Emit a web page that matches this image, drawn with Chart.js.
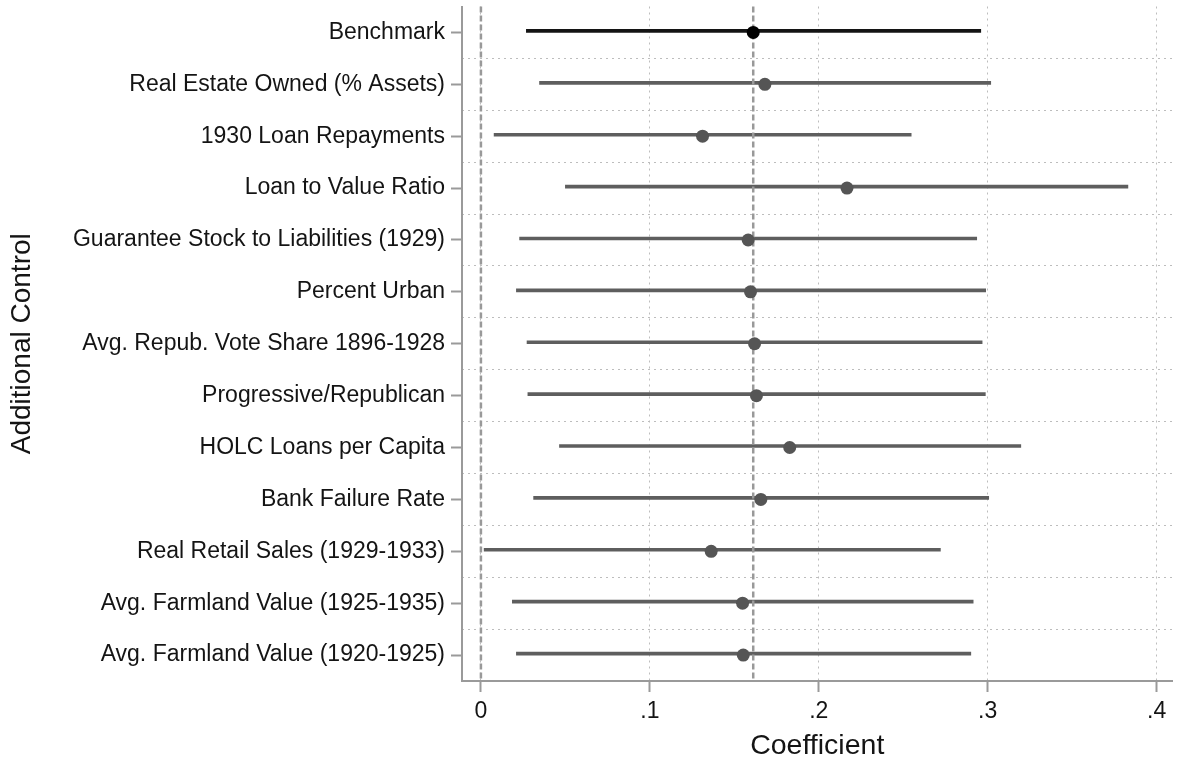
<!DOCTYPE html>
<html>
<head>
<meta charset="utf-8">
<title>Coefficient plot: additional controls</title>
<script src="https://cdn.jsdelivr.net/npm/chart.js@4/dist/chart.umd.min.js"></script>
<style>
  html, body { margin: 0; padding: 0; background: #ffffff; }
  canvas { display: block; }
</style>
</head>
<body>
<canvas id="coefplot" width="1179" height="766"></canvas>
<script>
// Specifications, top to bottom
const categories = [
  'Benchmark',
  'Real Estate Owned (% Assets)',
  '1930 Loan Repayments',
  'Loan to Value Ratio',
  'Guarantee Stock to Liabilities (1929)',
  'Percent Urban',
  'Avg. Repub. Vote Share 1896-1928',
  'Progressive/Republican',
  'HOLC Loans per Capita',
  'Bank Failure Rate',
  'Real Retail Sales (1929-1933)',
  'Avg. Farmland Value (1925-1935)',
  'Avg. Farmland Value (1920-1925)'
];

// Point estimates
const coefficients = [0.1612, 0.1681, 0.1312, 0.2167, 0.1582, 0.1596, 0.1620, 0.1631, 0.1828, 0.1657, 0.1363, 0.1549, 0.1553];

// Confidence interval bounds
const ciLower = [0.0269, 0.0347, 0.0078, 0.0500, 0.0229, 0.0210, 0.0273, 0.0278, 0.0465, 0.0312, 0.0019, 0.0186, 0.0210];
const ciUpper = [0.2959, 0.3018, 0.2547, 0.3830, 0.2935, 0.2988, 0.2967, 0.2986, 0.3196, 0.3006, 0.2720, 0.2914, 0.2900];

// Axis ticks
const xTicks = [0, 0.1, 0.2, 0.3, 0.4];

// Dashed reference lines: zero and the benchmark estimate
const referenceLines = [0, coefficients[0]];

// Row positions on the helper axis: full span and the separators between rows
const rowSpan = [-0.5, categories.length - 0.5];
const rowBoundaries = categories.slice(1).map((_, i) => i + 0.5);

const FONT = '"Liberation Sans", Arial, "DejaVu Sans", sans-serif';
const TEXT = '#141414';
const AXIS = '#9a9a9a';
const GRID = '#bdbdbd';

const lineColors = categories.map((_, i) => i === 0 ? '#141414' : '#5e5e5e');
const pointColors = categories.map((_, i) => i === 0 ? '#000000' : '#555555');

Chart.defaults.font.family = FONT;
Chart.defaults.color = TEXT;

new Chart(document.getElementById('coefplot'), {
  type: 'bar',
  data: {
    labels: categories,
    datasets: [
      {
        type: 'scatter',
        label: 'Coefficient',
        data: categories.map((c, i) => ({ x: coefficients[i], y: c })),
        xAxisID: 'x',
        yAxisID: 'y',
        pointRadius: 6.5,
        pointHoverRadius: 6.5,
        pointBackgroundColor: pointColors,
        pointBorderWidth: 0,
        order: 0
      },
      ...referenceLines.map(v => ({
        type: 'line',
        label: 'reference',
        data: rowSpan.map(r => ({ x: v, y: r })),
        xAxisID: 'x',
        yAxisID: 'yGrid',
        indexAxis: 'y',
        borderColor: '#999999',
        borderWidth: 2.5,
        borderDash: [6, 3],
        pointRadius: 0,
        fill: false,
        clip: false,
        order: 1
      })),
      {
        type: 'bar',
        label: 'Confidence interval',
        data: categories.map((_, i) => [ciLower[i], ciUpper[i]]),
        xAxisID: 'x',
        yAxisID: 'y',
        indexAxis: 'y',
        backgroundColor: lineColors,
        borderWidth: 0,
        barThickness: 3,
        order: 2
      }
    ]
  },
  options: {
    indexAxis: 'y',
    responsive: false,
    animation: false,
    devicePixelRatio: 1,
    layout: { padding: { top: 6, right: 2, left: 0, bottom: 0 } },
    plugins: {
      legend: { display: false },
      tooltip: { enabled: false }
    },
    scales: {
      x: {
        type: 'linear',
        position: 'bottom',
        min: -0.0112,
        max: 0.4094,
        beginAtZero: false,
        afterBuildTicks: s => { s.ticks = xTicks.map(v => ({ value: v })); },
        afterFit: s => { s.height = 85; s.paddingLeft = 0; s.paddingRight = 0; },
        grid: {
          color: GRID,
          lineWidth: 1,
          drawTicks: true,
          tickLength: 11,
          tickColor: AXIS,
          tickWidth: 2
        },
        border: { display: true, color: AXIS, width: 2, dash: [2, 4] },
        ticks: {
          padding: 6,
          color: TEXT,
          font: { size: 23 },
          maxRotation: 0,
          autoSkip: false,
          callback: v => v === 0 ? '0' : String(+Number(v).toFixed(1)).replace(/^0/, '')
        },
        title: {
          display: true,
          text: 'Coefficient',
          color: TEXT,
          font: { size: 28.5 },
          padding: { top: 0, bottom: 3 }
        }
      },
      y: {
        type: 'category',
        position: 'left',
        offset: true,
        afterFit: s => { s.width = 462; s.paddingTop = 0; s.paddingBottom = 0; },
        grid: {
          offset: false,
          drawOnChartArea: false,
          drawTicks: true,
          tickLength: 11,
          tickColor: AXIS,
          tickWidth: 2
        },
        border: { display: true, color: AXIS, width: 2 },
        ticks: {
          padding: 6,
          color: TEXT,
          font: { size: 23 },
          autoSkip: false
        },
        title: {
          display: true,
          text: 'Additional Control',
          color: TEXT,
          font: { size: 28 },
          padding: { top: 5, bottom: 0 }
        }
      },
      yGrid: {
        type: 'linear',
        position: 'right',
        min: rowSpan[0],
        max: rowSpan[1],
        reverse: true,
        offset: false,
        afterBuildTicks: s => { s.ticks = rowBoundaries.map(v => ({ value: v })); },
        afterFit: s => { s.width = 0; s.paddingTop = 0; s.paddingBottom = 0; },
        grid: { color: GRID, lineWidth: 1, drawTicks: false, offset: false },
        border: { display: false, dash: [2, 4] },
        ticks: { display: false, autoSkip: false }
      }
    }
  }
});
</script>
</body>
</html>
